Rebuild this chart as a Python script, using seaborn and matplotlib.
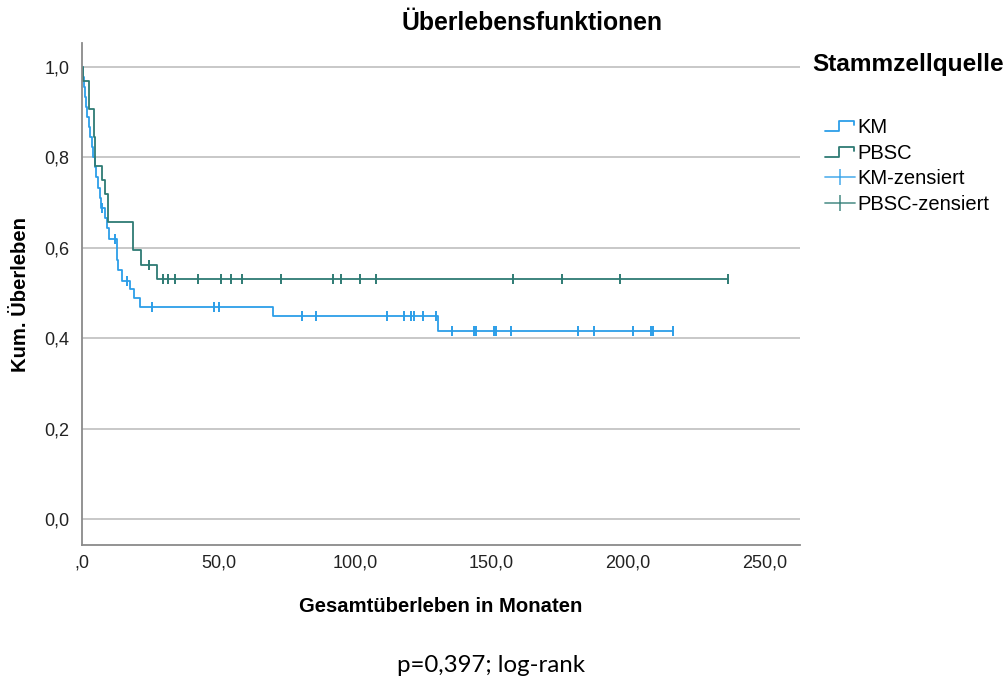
import numpy as np
import pandas as pd
import matplotlib
matplotlib.use("Agg")
import matplotlib.pyplot as plt
import seaborn as sns
from matplotlib.legend_handler import HandlerBase
from matplotlib.lines import Line2D

# Kaplan-Meier estimates per stem cell source: event times (months) and survival after each event
km_event_times = [0.3, 0.6, 1.0, 1.5, 2.0, 2.5, 3.0, 3.5, 4.2, 4.8, 5.3, 5.8, 6.5, 7.0,
                  8.3, 9.0, 10.0, 13.0, 13.3, 14.5, 17.6, 19.0, 21.2, 70.1, 130.5]
km_survival = [0.978, 0.956, 0.933, 0.911, 0.889, 0.867, 0.844, 0.822, 0.800, 0.778,
               0.756, 0.733, 0.711, 0.689, 0.666, 0.643, 0.620, 0.574, 0.550, 0.527,
               0.508, 0.489, 0.470, 0.449, 0.415]
km_censored = [7.5, 12.2, 16.5, 25.5, 48.5, 50.3, 80.7, 85.6, 111.8, 117.9, 120.4,
               121.7, 124.8, 129.6, 135.4, 143.5, 144.2, 150.9, 151.5, 157.0, 181.8,
               187.7, 201.9, 208.6, 209.2, 216.6]

pbsc_event_times = [0.3, 2.7, 4.3, 4.6, 7.5, 8.5, 9.5, 18.5, 21.7, 27.3]
pbsc_survival = [0.969, 0.906, 0.844, 0.781, 0.750, 0.719, 0.656, 0.594, 0.563, 0.530]
pbsc_censored = [24.7, 29.8, 31.6, 34.1, 42.6, 50.8, 54.6, 58.5, 72.9, 91.8, 94.9,
                 101.8, 107.6, 158.0, 175.7, 197.1, 236.7]

groups = ["KM", "PBSC"]
censor_labels = ["KM-zensiert", "PBSC-zensiert"]
x_ticks = [0, 50, 100, 150, 200, 250]
x_tick_labels = [",0", "50,0", "100,0", "150,0", "200,0", "250,0"]
y_ticks = [0.0, 0.2, 0.4, 0.6, 0.8, 1.0]
y_tick_labels = ["0,0", "0,2", "0,4", "0,6", "0,8", "1,0"]

colors = {"KM": "#2c9ee8", "PBSC": "#2e7b74"}


def step_frame(name, times, surv, censored):
    t = [0.0] + list(times) + [max(censored)]
    s = [1.0] + list(surv) + [surv[-1]]
    return pd.DataFrame({"Monate": t, "Ueberleben": s, "Quelle": name})


def censor_frame(name, times, surv, censored):
    times = np.asarray(times)
    surv = np.asarray(surv)
    idx = np.searchsorted(times, censored, side="right") - 1
    lvl = np.where(idx >= 0, surv[np.clip(idx, 0, None)], 1.0)
    return pd.DataFrame({"Monate": censored, "Ueberleben": lvl, "Quelle": name})


curves = pd.concat([
    step_frame("KM", km_event_times, km_survival, km_censored),
    step_frame("PBSC", pbsc_event_times, pbsc_survival, pbsc_censored),
], ignore_index=True)
marks = pd.concat([
    censor_frame("KM", km_event_times, km_survival, km_censored),
    censor_frame("PBSC", pbsc_event_times, pbsc_survival, pbsc_censored),
], ignore_index=True)

sns.set_style("white")
plt.rcParams["font.family"] = ["Liberation Sans", "DejaVu Sans"]
plt.rcParams["text.color"] = "black"
plt.rcParams["axes.labelcolor"] = "black"

fig = plt.figure(figsize=(10.06, 6.81), dpi=100)
ax = fig.add_axes([82 / 1006, 1 - 545 / 681, (800 - 82) / 1006, (545 - 43) / 681])

for g in groups:
    sub = curves[curves["Quelle"] == g]
    sns.lineplot(data=sub, x="Monate", y="Ueberleben", ax=ax, color=colors[g],
                 drawstyle="steps-post", estimator=None, sort=False, lw=1.3,
                 legend=False)
    msub = marks[marks["Quelle"] == g]
    sns.scatterplot(data=msub, x="Monate", y="Ueberleben", ax=ax, color=colors[g],
                    marker="|", s=45, linewidth=1.4, legend=False, zorder=3)

ax.set_xlim(0, 263)
ax.set_ylim(-0.0575, 1.053)
ax.set_xticks(x_ticks)
ax.set_xticklabels(x_tick_labels)
ax.set_yticks(y_ticks)
ax.set_yticklabels(y_tick_labels)
ax.tick_params(axis="both", length=0, labelsize=13, colors="#222222")
ax.tick_params(axis="y", pad=9)
ax.tick_params(axis="x", pad=7)
ax.yaxis.grid(True, color="#c4c4c4", lw=1.3)
ax.xaxis.grid(False)
for side in ["top", "right"]:
    ax.spines[side].set_visible(False)
for side in ["left", "bottom"]:
    ax.spines[side].set_color("#8a8a8a")
    ax.spines[side].set_linewidth(1.3)

ax.set_xlabel("Gesamtüberleben in Monaten", fontsize=14.6, fontweight="bold", labelpad=18)
ax.set_ylabel("Kum. Überleben", fontsize=14.6, fontweight="bold", labelpad=10)

fig.text(532 / 1006, 1 - 23 / 681, "Überlebensfunktionen", ha="center", va="center",
         fontsize=17.8, fontweight="bold")
fig.text(491 / 1006, 1 - 665 / 681, "p=0,397; log-rank", ha="center", va="center",
         fontsize=17.3, family=["Lato", "DejaVu Sans"])


class StepHandler(HandlerBase):
    def create_artists(self, legend, orig_handle, xdescent, ydescent, width, height,
                       fontsize, trans):
        x0, y0 = -xdescent, -ydescent
        xs = [x0, x0 + 0.45 * width, x0 + 0.45 * width, x0 + 0.95 * width, x0 + 0.95 * width]
        ys = [y0 + 0.15 * height, y0 + 0.15 * height, y0 + 0.85 * height,
              y0 + 0.85 * height, y0 + 0.55 * height]
        ln = Line2D(xs, ys, color=orig_handle.get_color(), lw=orig_handle.get_linewidth())
        ln.set_transform(trans)
        return [ln]


step_handles = [Line2D([], [], color=colors[g], lw=1.3) for g in groups]
cens_handles = [Line2D([], [], color=colors[g], lw=1.3, marker="|", markersize=12,
                       markeredgewidth=1.3, alpha=0.75) for g in groups]
handler_map = {h: StepHandler() for h in step_handles}

fig.text(812 / 1006, 1 - 65 / 681, "Stammzellquelle", ha="left", va="center",
         fontsize=17.6, fontweight="bold")
leg = ax.legend(step_handles + cens_handles, groups + censor_labels,
                handler_map=handler_map, loc="upper left",
                bbox_to_anchor=(825 / 1006, 1 - 118 / 681), bbox_transform=fig.transFigure,
                frameon=False, fontsize=14.5, handlelength=1.5, handletextpad=0.12,
                labelspacing=0.33, borderpad=0, borderaxespad=0)

fig.savefig("out.png", dpi=100)
